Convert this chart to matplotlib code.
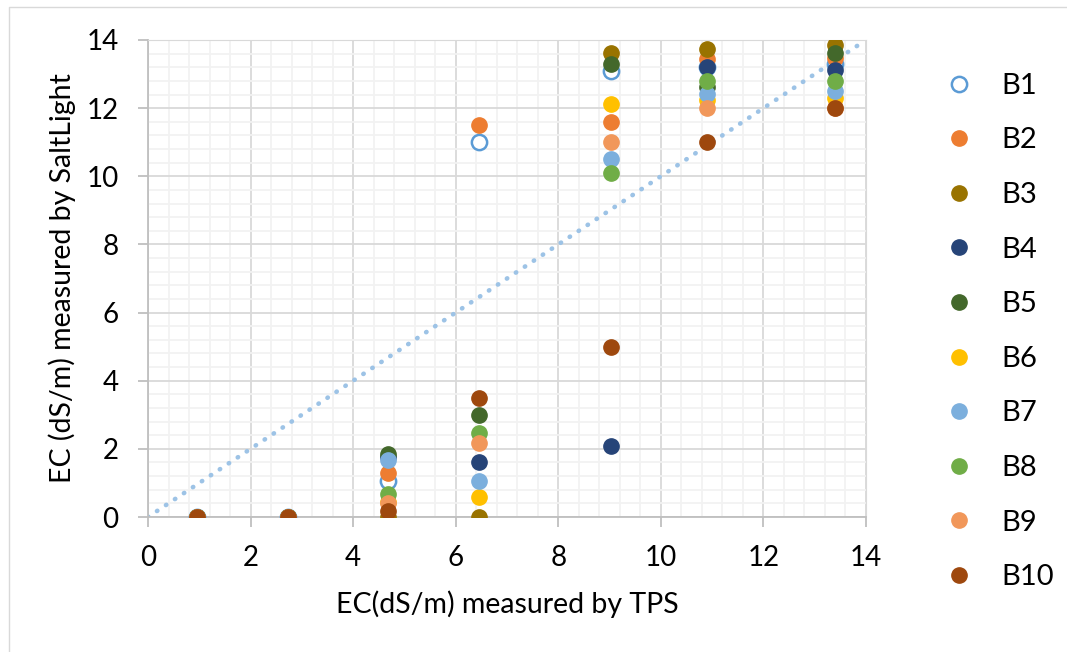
import numpy as np
import matplotlib.pyplot as plt
from matplotlib.ticker import MultipleLocator
from matplotlib.lines import Line2D

plt.rcParams['font.family'] = ['Lato', 'DejaVu Sans']

# TPS readings (x) shared by all sensors
tps = [0.95, 2.73, 4.67, 6.45, 9.03, 10.9, 13.4]

names = ['B1', 'B2', 'B3', 'B4', 'B5', 'B6', 'B7', 'B8', 'B9', 'B10']
b1 = [0, 0, 1.07, 11.0, 13.1, 13.2, 13.3]
b2 = [0, 0, 1.3, 11.5, 11.6, 13.43, 13.46]
b3 = [0, 0, 0, 0, 13.63, 13.73, 13.85]
b4 = [0, 0, 1.76, 1.6, 2.08, 13.22, 13.13]
b5 = [0, 0, 1.84, 3.0, 13.31, 12.63, 13.63]
b6 = [0, 0, 0.45, 0.58, 12.12, 12.24, 12.29]
b7 = [0, 0, 1.67, 1.07, 10.52, 12.42, 12.5]
b8 = [0, 0, 0.67, 2.47, 10.1, 12.81, 12.81]
b9 = [0, 0, 0.42, 2.18, 11.0, 12.0, 12.0]
b10 = [0, 0, 0.19, 3.5, 4.99, 11.0, 12.0]
series = [b1, b2, b3, b4, b5, b6, b7, b8, b9, b10]

colors = ['#5B9BD5', '#ED7D31', '#997300', '#264478', '#43682B',
          '#FFC000', '#7CAFDD', '#70AD47', '#F1975A', '#9E480E']

W, H = 1067, 652
fig = plt.figure(figsize=(W/100, H/100), dpi=100)
# chart area border (only left and top edges are inside the picture)
fig.lines.append(Line2D([8.5/W, 8.5/W, 1], [0, 1 - 6.5/H, 1 - 6.5/H],
                        transform=fig.transFigure, color='#d9d9d9', lw=1))
ax = fig.add_axes([148/W, 1 - 517/H, (866-148)/W, (517-40)/H])

# 1:1 line
ax.plot([0, 13.9], [0, 13.9], color='#9DC3E6', lw=3.3, ls=(0, (0.1, 2.25)),
        dash_capstyle='round', zorder=2)

for i in range(len(names)):
    if i == 0:
        ax.plot(tps, series[i], 'o', ms=11, mfc='white', mec=colors[i],
                mew=1.8, ls='none', label=names[i], zorder=3)
    else:
        ax.plot(tps, series[i], 'o', ms=11, color=colors[i], ls='none',
                label=names[i], zorder=3)

ax.set_xlim(0, 14)
ax.set_ylim(0, 14)
ax.xaxis.set_major_locator(MultipleLocator(2))
ax.yaxis.set_major_locator(MultipleLocator(2))
ax.xaxis.set_minor_locator(MultipleLocator(0.4))
ax.yaxis.set_minor_locator(MultipleLocator(0.4))
ax.grid(which='major', color='#d9d9d9', lw=1.3, zorder=0)
ax.grid(which='minor', color='#f2f2f2', lw=1.3, zorder=0)
ax.set_axisbelow(True)
for s in ['top', 'right']:
    ax.spines[s].set_color('#d9d9d9')
for s in ['left', 'bottom']:
    ax.spines[s].set_color('#bfbfbf')
    ax.spines[s].set_linewidth(1.3)
ax.tick_params(which='major', direction='out', length=7.2, color='#bfbfbf',
               width=1.3, labelsize=20, labelcolor='black')
ax.tick_params(axis='y', pad=14)
ax.tick_params(axis='x', pad=13)
ax.tick_params(which='minor', length=0)

ax.set_xlabel('EC(dS/m) measured by TPS', fontsize=20.5, va='center')
ax.set_ylabel('EC (dS/m) measured by SaltLight', fontsize=20.5, va='center')
ax.xaxis.set_label_coords(507/W, 1 - 604/H, transform=fig.transFigure)
ax.yaxis.set_label_coords(62/W, 1 - 278/H, transform=fig.transFigure)

ax.legend(loc='center left', bbox_to_anchor=(933/W, 1 - 331.5/H),
          bbox_transform=fig.transFigure, frameon=False, fontsize=21,
          labelspacing=0.98, handlelength=1.0, handletextpad=0.96,
          borderaxespad=0)

fig.savefig('out.png', dpi=100)
